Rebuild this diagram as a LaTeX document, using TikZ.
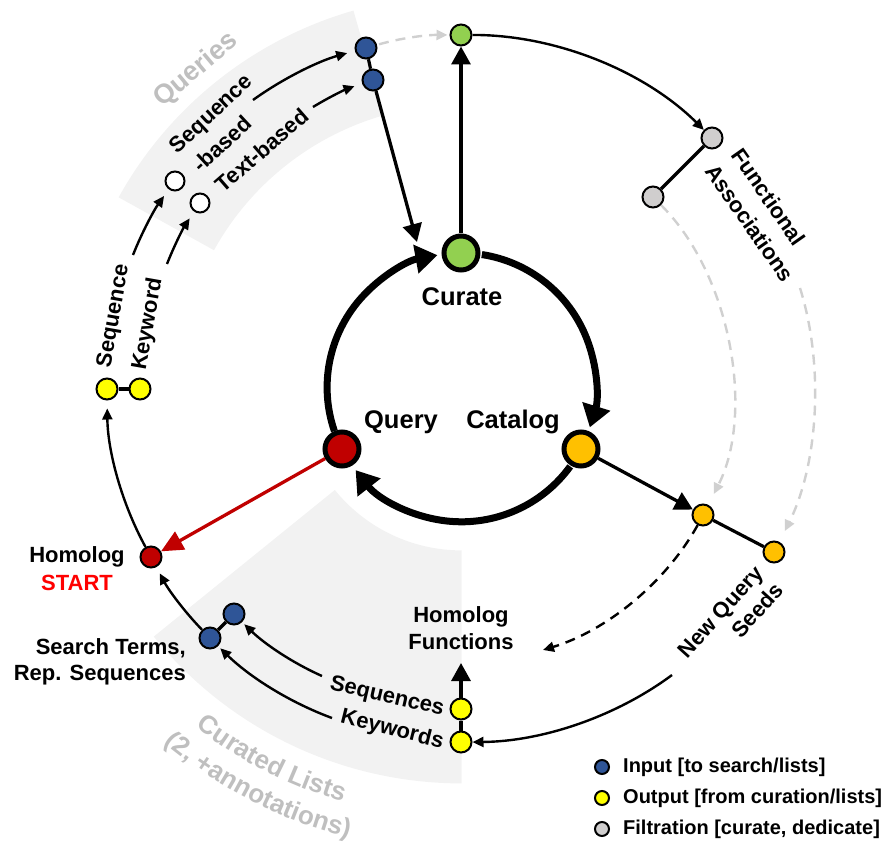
\documentclass[tikz,border=0pt]{standalone}
\usepackage{fontspec}
\setmainfont{Liberation Sans}
\usetikzlibrary{arrows.meta,calc,decorations.text}
\definecolor{cgreen}{HTML}{92D050}
\definecolor{cdred}{HTML}{C00000}
\definecolor{corange}{HTML}{FFC000}
\definecolor{cblue}{HTML}{2F5597}
\definecolor{cyellow}{HTML}{FFFF00}
\definecolor{cgraynode}{HTML}{D0CECE}
\definecolor{cgraytext}{HTML}{BFBFBF}
\definecolor{cband}{HTML}{F2F2F2}
\definecolor{cdash}{HTML}{D0D0D0}
\definecolor{cstart}{HTML}{FF0000}
\begin{document}
\begin{tikzpicture}[x=1pt,y=1pt,
  dot/.style={circle,draw=black,line width=2pt,minimum size=21pt,inner sep=0pt},
  bigdot/.style={circle,draw=black,line width=5pt,minimum size=34pt,inner sep=0pt},
  legdot/.style={circle,draw=black,line width=2pt,minimum size=14pt,inner sep=0pt},
  lab/.style={font=\bfseries\fontsize{22}{26}\selectfont,inner sep=0pt},
  biglab/.style={font=\bfseries\fontsize{25.5}{30}\selectfont,inner sep=0pt},
  leglab/.style={font=\bfseries\fontsize{20}{24}\selectfont,inner sep=0pt,anchor=west},
  graylab/.style={font=\bfseries\fontsize{27}{30}\selectfont,text=cgraytext,inner sep=0pt},
  thinarr/.style={line width=2.4pt,-{Triangle[length=11pt,width=10pt]}},
  grayarr/.style={draw=cdash,line width=2.4pt,dash pattern=on 10pt off 7pt,-{Triangle[length=11pt,width=10pt]}},
  blackdash/.style={line width=2.4pt,dash pattern=on 10pt off 7pt,-{Triangle[length=11pt,width=10pt]}},
  thickarr/.style={line width=3.3pt,-{Triangle[length=18pt,width=19pt]}},
  redarr/.style={draw=cdred,line width=3.3pt,-{Triangle[length=22pt,width=20pt]}},
  cyc/.style={line width=7pt,-{Triangle[length=22pt,width=28pt]}},
  link/.style={line width=3.2pt},
  band/.style={fill=cband}
]
\useasboundingbox (0,0) rectangle (890,844);
\coordinate (C) at (461.5,456.6);

% background bands
\fill[band] ($(C)+(106:283)$) arc[start angle=106,end angle=151,radius=283]
  -- ($(C)+(151:392)$) arc[start angle=151,end angle=106,radius=392] -- cycle;
\fill[band] ($(C)+(219:163)$) arc[start angle=219,end angle=270,radius=163]
  -- ($(C)+(270:396)$) arc[start angle=270,end angle=219,radius=396] -- cycle;

% band labels
\node[graylab,rotate=40] (lq) at (196,774) {Queries};
\path[decorate,decoration={text along path,text align=center,
  text={|\bfseries\fontsize{26}{30}\selectfont\color{cgraytext}|Curated Lists}}]
  ($(C)+(213:431)$) arc[start angle=213,end angle=273,radius=431];
\path[decorate,decoration={text along path,text align=center,
  text={|\bfseries\fontsize{26}{30}\selectfont\color{cgraytext}|(2, +annotations)}}]
  ($(C)+(213:464)$) arc[start angle=213,end angle=273,radius=464];

% main nodes
\node[bigdot,fill=cgreen] (Cur) at (461,591) {};
\node[bigdot,fill=cdred] (Qry) at (342,395) {};
\node[bigdot,fill=corange] (Cat) at (581,395) {};
\node[biglab] (lcur) at (462,547) {Curate};
\node[biglab] (lqry) at (401,422) {Query};
\node[biglab] (lcat) at (513,422) {Catalog};

% ring nodes
\node[dot,fill=cgreen] (G0) at (461,809) {};
\node[dot,fill=cgraynode] (F1) at (712,706) {};
\node[dot,fill=cgraynode] (F2) at (653,647) {};
\node[dot,fill=corange] (O1) at (703,329) {};
\node[dot,fill=corange] (O2) at (774,292) {};
\node[dot,fill=cblue] (B1) at (366,796) {};
\node[dot,fill=cblue] (B2) at (373,764) {};
\node[dot,fill=white,minimum size=19pt] (W1) at (175,663) {};
\node[dot,fill=white,minimum size=19pt] (W2) at (200,641) {};
\node[dot,fill=cyellow] (Y1) at (107,455) {};
\node[dot,fill=cyellow] (Y2) at (140,455) {};
\node[dot,fill=cdred] (Hom) at (151,287) {};
\node[dot,fill=cblue] (B3) at (234,230) {};
\node[dot,fill=cblue] (B4) at (210,206) {};
\node[dot,fill=cyellow] (Y3) at (461,135) {};
\node[dot,fill=cyellow] (Y4) at (461,102) {};

% free ends
\coordinate (cin) at (417,602);
\coordinate (hfTip) at (461,181);
\coordinate (faStart) at (800,556);
\coordinate (hfEnd) at (543,194);
\coordinate (nqsStart) at (672,169);
\coordinate (seqsStart) at (322,168);
\coordinate (kwStart) at (332,126);
\coordinate (seqLStart) at (133,589);
\coordinate (kwLStart) at (167,580);
\coordinate (sbStart) at (253,744);
\coordinate (tbStart) at (313,737);

% labels
\node[lab,rotate=43] (lsq) at (212,729) {Sequence};
\node[lab,rotate=43] (lsb) at (222,700) {-based};
\node[lab,rotate=41] (ltb) at (262,694) {Text-based};
\node[lab,rotate=80] (lseq) at (114,528) {Sequence};
\node[lab,rotate=80] (lkw) at (148,520) {Keyword};
\node[lab,rotate=-55] (lfun) at (769,647) {Functional};
\node[lab,rotate=-55] (lass) at (750,621) {Associations};
\node[lab,rotate=48] (lnq) at (722,231) {New Query};
\node[lab,rotate=48] (lsd) at (757,234) {Seeds};
\node[lab,align=center,font=\bfseries\fontsize{22}{27}\selectfont] (lhf) at (461,216) {Homolog\\Functions};
\node[lab] (lhom) at (77,287) {Homolog};
\node[lab,text=cstart] (lstart) at (77,261) {START};
\node[lab,anchor=east] (lst) at (186,196) {Search Terms,};
\node[lab,anchor=east] (lrs) at (186,169) {Rep. Sequences};
\node[lab,rotate=-13] (lseqs) at (387,147) {Sequences};
\node[lab,rotate=-14] (lkws) at (392,114) {Keywords};

% inner cycle
\draw[cyc] ($(C)+(81.3:134.4)$) arc[start angle=81.3,end angle=-17.3,radius=134.4];
\draw[cyc] ($(C)+(-36:134.4)$) arc[start angle=-36,end angle=-142,radius=134.4];
\draw[cyc] ($(C)+(199:134.4)$) arc[start angle=199,end angle=100.3,radius=134.4];

% straight connectors
\draw[thickarr] (Cur) -- (G0);
\draw[thickarr] (B2) -- (cin);
\draw[thickarr] (Cat) -- (O1);
\draw[thickarr] (Y3) -- (hfTip);
\draw[redarr] (Qry) -- (Hom);
\draw[link] (B1) -- (B2);
\draw[link] (F1) -- (F2);
\draw[link] (O1) -- (O2);
\draw[link] (Y1) -- (Y2);
\draw[link] (B3) -- (B4);
\draw[link] (Y3) -- (Y4);

% ring arcs
\draw[thinarr] (G0) to[bend left=22.5,looseness=0.85] (F1);
\draw[grayarr,shorten >=12pt] (F2) to[bend left=36,looseness=0.85] (O1);
\draw[grayarr,shorten >=12pt] (faStart) to[bend left=22,looseness=0.85] (O2);
\draw[blackdash] (O1) to[bend left=22,looseness=0.85] (hfEnd);
\draw[thinarr] (nqsStart) to[bend left=18,looseness=0.85] (Y4);
\draw[thinarr,shorten >=3pt] (seqsStart) to[bend left=10,looseness=0.85] (B3);
\draw[thinarr,shorten >=3pt] (kwStart) to[bend left=12,looseness=0.85] (B4);
\draw[thinarr,shorten >=7pt] (B4) to[bend left=8,looseness=0.85] (Hom);
\draw[thinarr,shorten >=8pt] (Hom) to[bend left=14,looseness=0.85] (Y1);
\draw[thinarr,shorten >=8pt] (seqLStart) to[bend left=7,looseness=0.85] (W1);
\draw[thinarr,shorten >=8pt] (kwLStart) to[bend left=6,looseness=0.85] (W2);
\draw[thinarr,shorten >=8pt] (sbStart) to[bend left=10,looseness=0.85] (B1);
\draw[thinarr,shorten >=8pt] (tbStart) to[bend left=6,looseness=0.85] (B2);
\draw[grayarr,shorten >=2pt,shorten <=2pt] (B1) to[bend left=8,looseness=0.85] (G0);

% legend
\node[legdot,fill=cblue] (k1) at (602,77) {};
\node[legdot,fill=cyellow] (k2) at (602,46) {};
\node[legdot,fill=cgraynode] (k3) at (602,15) {};
\node[leglab] (t1) at (623,77) {Input [to search/lists]};
\node[leglab] (t2) at (623,46) {Output [from curation/lists]};
\node[leglab] (t3) at (623,15) {Filtration [curate, dedicate]};
\end{tikzpicture}
\end{document}
